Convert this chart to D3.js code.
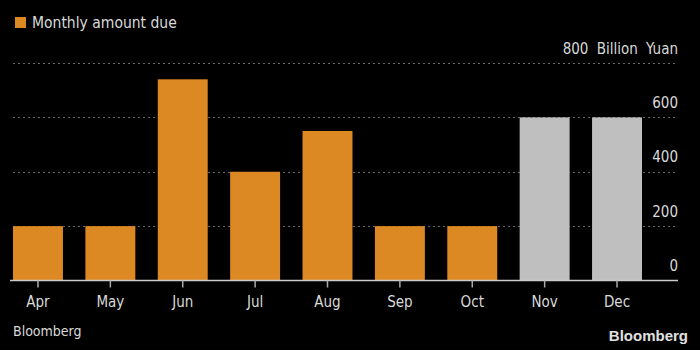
<!DOCTYPE html>
<html>
<head>
<meta charset="utf-8">
<script src="https://cdn.jsdelivr.net/npm/d3@7"></script>
<style>
  html, body { margin: 0; padding: 0; background: #000; }
  svg { display: block; }
  text { font-family: "DejaVu Sans Condensed", "DejaVu Sans", sans-serif; }
</style>
</head>
<body>
<svg id="chart" width="700" height="350"></svg>
<script>
const months = ["Apr", "May", "Jun", "Jul", "Aug", "Sep", "Oct", "Nov", "Dec"];
const amountDue = [200, 200, 740, 400, 550, 200, 200, 600, 600];
const isProjected = [false, false, false, false, false, false, false, true, true];
const yTicks = [0, 200, 400, 600, 800];
const legendLabel = "Monthly amount due";
const unitLabel = "Billion Yuan";
const sourceLabel = "Bloomberg";

const svg = d3.select("#chart");
const W = 700, H = 350;
svg.append("rect").attr("width", W).attr("height", H).attr("fill", "#000");

const orange = "#dc8924";
const grey = "#bfbfbf";
const textCol = "#d9d9d9";
const fontStack = "'DejaVu Sans Condensed', 'DejaVu Sans', sans-serif";

const x = d3.scaleBand().domain(months).range([13, 642]).paddingInner(0.31).paddingOuter(0);
const y = d3.scaleLinear().domain([0, 800]).range([280.5, 63]);

// gridlines
svg.append("g").selectAll("line")
  .data(yTicks.filter(d => d > 0))
  .join("line")
  .attr("x1", 13).attr("x2", 678)
  .attr("y1", d => Math.round(y(d)) + 0.5).attr("y2", d => Math.round(y(d)) + 0.5)
  .attr("stroke", "#6a6a6a").attr("stroke-width", 1)
  .attr("stroke-dasharray", "2,3");

// bars
svg.append("g").selectAll("rect")
  .data(months.map((m, i) => ({ m, v: amountDue[i], p: isProjected[i] })))
  .join("rect")
  .attr("x", d => x(d.m))
  .attr("width", x.bandwidth())
  .attr("y", d => y(d.v))
  .attr("height", d => y(0) - y(d.v))
  .attr("fill", d => d.p ? grey : orange);

// y-axis labels (right)
const yAxis = d3.axisRight(y).tickValues(yTicks)
  .tickSize(0)
  .tickFormat(d => d === 800 ? "800 " + unitLabel : d3.format("d")(d));
const yg = svg.append("g").attr("transform", "translate(678,0)").call(yAxis);
yg.select(".domain").remove();
yg.selectAll("text")
  .attr("x", 0).attr("dy", "0")
  .attr("y", -10)
  .attr("text-anchor", "end")
  .attr("fill", textCol)
  .attr("font-size", 15)
  .style("word-spacing", "4px")
  .style("font-family", fontStack);

// x axis
const xAxis = d3.axisBottom(x).tickSize(7).tickPadding(9);
const xg = svg.append("g").attr("transform", "translate(0,280.5)").call(xAxis);
xg.select(".domain").attr("d", "M10,0H678").attr("stroke", "#cccccc").attr("stroke-width", 1.5);
xg.selectAll(".tick line").attr("stroke", "#aaaaaa").attr("stroke-width", 1.5);
xg.selectAll("text")
  .attr("fill", textCol)
  .attr("font-size", 15)
  .style("font-family", fontStack);

// legend
svg.append("rect").attr("x", 15).attr("y", 17).attr("width", 11).attr("height", 11).attr("fill", orange);
svg.append("text").attr("x", 32).attr("y", 28)
  .attr("fill", textCol).attr("font-size", 15.5)
  .text(legendLabel);

// footer
svg.append("text").attr("x", 13).attr("y", 336)
  .attr("fill", textCol).attr("font-size", 14)
  .text(sourceLabel);
svg.append("text").attr("x", 688).attr("y", 341)
  .attr("text-anchor", "end")
  .attr("fill", "#e0e0e0").attr("font-size", 15).attr("font-weight", "bold")
  .style("font-family", "'Liberation Sans', Arial, sans-serif")
  .text(sourceLabel);
</script>
</body>
</html>
